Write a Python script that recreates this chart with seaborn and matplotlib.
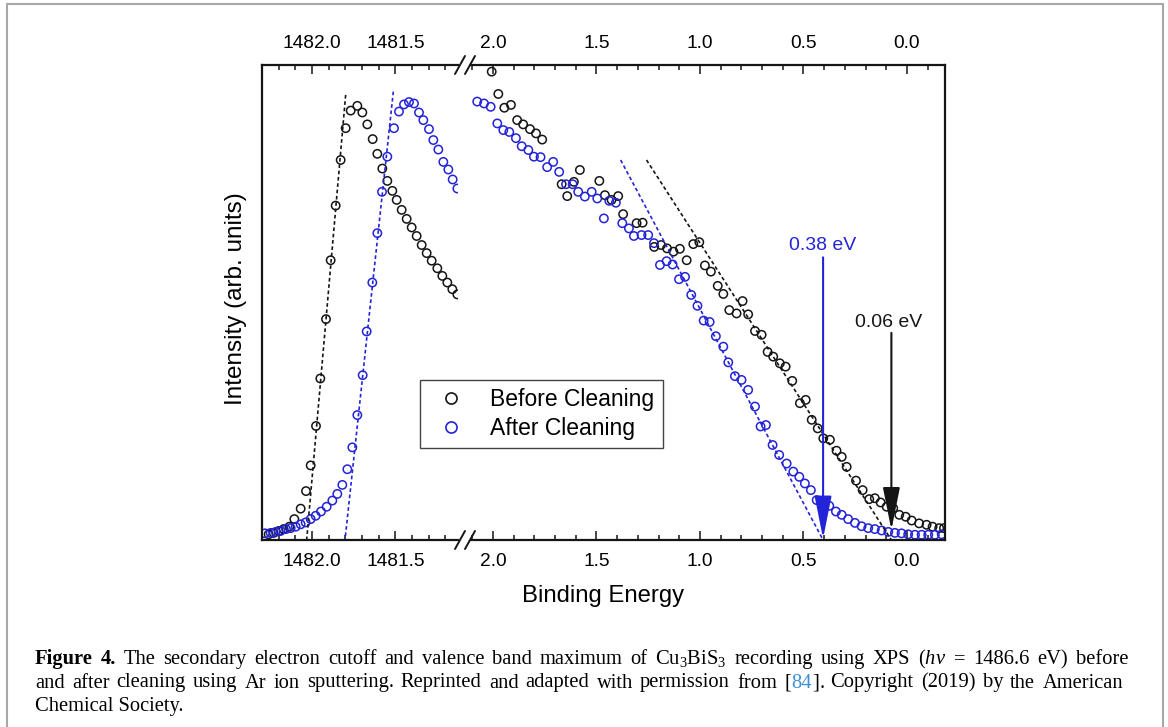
import seaborn as sns
import matplotlib.pyplot as plt
from matplotlib.lines import Line2D
from matplotlib.patches import Rectangle
from matplotlib.ticker import MultipleLocator
import pandas as pd

# secondary electron cutoff region (kinetic energy, eV)
sec_e_before = [1482.26, 1482.23, 1482.20, 1482.17, 1482.136, 1482.106, 1482.068, 1482.036, 1482.008,
                1481.976, 1481.950, 1481.916, 1481.888, 1481.858, 1481.828, 1481.798, 1481.768, 1481.728,
                1481.698, 1481.668, 1481.636, 1481.608, 1481.578, 1481.548, 1481.518, 1481.492, 1481.462,
                1481.432, 1481.402, 1481.372, 1481.342, 1481.312, 1481.282, 1481.248, 1481.218, 1481.188,
                1481.158, 1481.128]
sec_i_before = [1.2, 1.5, 1.9, 2.3, 2.8, 4.4, 6.6, 10.3, 15.7, 24.0, 34.0, 46.5, 58.9, 70.4, 80.0, 86.7,
                90.4, 91.4, 90.0, 87.5, 84.4, 81.3, 78.2, 75.6, 73.5, 71.6, 69.5, 67.6, 65.8, 64.0, 62.1,
                60.4, 58.8, 57.2, 55.6, 54.2, 52.8, 51.7]
sec_e_after = [1482.282, 1482.248, 1482.218, 1482.188, 1482.156, 1482.128, 1482.098, 1482.068, 1482.038,
               1482.008, 1481.978, 1481.946, 1481.912, 1481.878, 1481.848, 1481.818, 1481.788, 1481.758,
               1481.728, 1481.696, 1481.672, 1481.638, 1481.608, 1481.580, 1481.548, 1481.508, 1481.478,
               1481.448, 1481.418, 1481.388, 1481.358, 1481.332, 1481.298, 1481.272, 1481.242, 1481.212,
               1481.182, 1481.156, 1481.128]
sec_i_after = [1.4, 1.5, 1.7, 1.9, 2.3, 2.5, 2.8, 3.3, 3.7, 4.4, 5.1, 6.0, 7.0, 8.3, 9.7, 11.6, 14.9, 19.5,
               26.3, 34.7, 43.9, 54.2, 64.6, 73.3, 80.7, 86.7, 90.2, 91.7, 92.2, 91.9, 90.0, 88.4, 86.5,
               84.2, 82.2, 79.6, 78.0, 75.9, 74.0]

# valence band region (binding energy, eV)
vb_e_before = [2.006, 1.974, 1.945, 1.913, 1.883, 1.854, 1.821, 1.792, 1.762, 1.668, 1.641, 1.609, 1.580,
               1.486, 1.459, 1.427, 1.395, 1.371, 1.306, 1.277, 1.221, 1.188, 1.159, 1.128, 1.097, 1.064,
               1.032, 1.003, 0.976, 0.947, 0.914, 0.887, 0.858, 0.823, 0.794, 0.767, 0.734, 0.702, 0.673,
               0.646, 0.614, 0.586, 0.554, 0.517, 0.489, 0.460, 0.431, 0.404, 0.372, 0.340, 0.315, 0.291,
               0.246, 0.214, 0.182, 0.155, 0.127, 0.098, 0.066, 0.037, 0.006, -0.023, -0.059, -0.095,
               -0.124, -0.156, -0.179]
vb_i_before = [98.6, 93.9, 91.0, 91.6, 88.4, 87.5, 86.5, 85.6, 84.3, 74.9, 72.4, 75.4, 77.9, 75.6, 72.6,
               71.6, 72.4, 68.6, 66.7, 66.8, 61.7, 62.1, 61.4, 60.7, 61.3, 58.9, 62.3, 62.7, 57.8, 56.5,
               53.5, 51.8, 48.4, 47.7, 50.3, 47.5, 44.0, 43.2, 39.6, 38.6, 37.2, 36.5, 33.5, 28.8, 29.5,
               25.3, 23.5, 21.4, 21.1, 18.8, 17.5, 15.4, 12.5, 10.5, 8.6, 8.8, 7.9, 7.0, 6.7, 5.3, 4.9,
               4.1, 3.5, 3.2, 2.8, 2.5, 2.5]
vb_e_after = [2.076, 2.043, 2.011, 1.979, 1.950, 1.921, 1.889, 1.861, 1.829, 1.802, 1.770, 1.738, 1.709,
              1.680, 1.647, 1.615, 1.588, 1.556, 1.523, 1.496, 1.464, 1.438, 1.406, 1.375, 1.343, 1.319,
              1.282, 1.250, 1.222, 1.193, 1.161, 1.132, 1.101, 1.072, 1.042, 1.012, 0.982, 0.953, 0.923,
              0.887, 0.863, 0.831, 0.799, 0.767, 0.734, 0.707, 0.681, 0.649, 0.617, 0.581, 0.549, 0.520,
              0.493, 0.464, 0.436, 0.407, 0.375, 0.343, 0.315, 0.284, 0.251, 0.219, 0.187, 0.155, 0.122,
              0.090, 0.058, 0.026, -0.006, -0.039, -0.071, -0.103, -0.135, -0.168]
vb_i_after = [92.3, 91.9, 91.2, 87.7, 86.3, 85.9, 84.6, 82.9, 82.1, 80.7, 80.6, 78.5, 79.6, 77.5, 74.9,
              74.9, 73.3, 72.3, 73.3, 71.9, 67.7, 71.4, 71.0, 66.7, 65.6, 64.0, 64.2, 64.2, 62.5, 57.9,
              58.7, 58.0, 54.9, 55.4, 51.6, 49.3, 46.2, 45.9, 42.9, 40.7, 37.4, 34.5, 33.7, 31.6, 28.1,
              23.9, 24.2, 20.0, 17.9, 16.1, 14.4, 13.3, 11.9, 10.5, 8.4, 7.6, 7.2, 6.0, 5.3, 4.4, 3.6,
              2.9, 2.5, 2.3, 2.0, 1.7, 1.5, 1.4, 1.2, 1.1, 1.1, 1.1, 1.1, 1.2]

# linear extrapolations
fit_sec_before_e, fit_sec_before_i = [1481.798, 1482.032], [93.7, 0.0]
fit_sec_after_e, fit_sec_after_i = [1481.512, 1481.802], [94.4, 0.0]
fit_vb_before_e, fit_vb_before_i = [1.258, 0.075], [80.0, 0.0]
fit_vb_after_e, fit_vb_after_i = [1.383, 0.405], [80.0, 0.0]

vbm_before, vbm_after = 0.075, 0.405
labels = ['Before Cleaning', 'After Cleaning']

BLACK = '#151515'
BLUE = '#2323d8'

sns.set_style('ticks')
plt.rcParams['font.family'] = ['Liberation Sans', 'DejaVu Sans']
plt.rcParams['text.color'] = 'black'
plt.rcParams['xtick.color'] = 'black'
plt.rcParams['xtick.labelcolor'] = 'black'
plt.rcParams['mathtext.fontset'] = 'custom'
plt.rcParams['mathtext.rm'] = 'Liberation Serif'
plt.rcParams['mathtext.it'] = 'Liberation Serif:italic'
plt.rcParams['mathtext.bf'] = 'Liberation Serif:bold'

W, H = 1168, 727
fig = plt.figure(figsize=(W / 100, H / 100), dpi=100)
fig.patch.set_facecolor('white')


def fx(px):
    return px / W


def fy(py):
    return 1 - py / H


ax_l = fig.add_axes([fx(262), fy(540), fx(458) - fx(262), fy(65) - fy(540)])
ax_r = fig.add_axes([fx(471), fy(540), fx(945) - fx(471), fy(65) - fy(540)])

mk = dict(marker='o', s=36, facecolor='none', linewidth=1.1, legend=False)
sec_b = pd.DataFrame({'E': sec_e_before, 'I': sec_i_before})
sec_a = pd.DataFrame({'E': sec_e_after, 'I': sec_i_after})
vb_b = pd.DataFrame({'E': vb_e_before, 'I': vb_i_before})
vb_a = pd.DataFrame({'E': vb_e_after, 'I': vb_i_after})

sns.scatterplot(data=sec_b, x='E', y='I', edgecolor=BLACK, ax=ax_l, **mk)
sns.scatterplot(data=sec_a, x='E', y='I', edgecolor=BLUE, ax=ax_l, **mk)
sns.scatterplot(data=vb_b, x='E', y='I', edgecolor=BLACK, ax=ax_r, **mk)
sns.scatterplot(data=vb_a, x='E', y='I', edgecolor=BLUE, ax=ax_r, **mk)

dash = dict(lw=1.2, ls=(0, (2.2, 1.6)))
ax_l.plot(fit_sec_before_e, fit_sec_before_i, color=BLACK, **dash)
ax_l.plot(fit_sec_after_e, fit_sec_after_i, color=BLUE, **dash)
ax_r.plot(fit_vb_before_e, fit_vb_before_i, color=BLACK, **dash)
ax_r.plot(fit_vb_after_e, fit_vb_after_i, color=BLUE, **dash)

# arrows marking the valence band maxima
arr = dict(arrowstyle='-|>,head_length=1.2,head_width=0.24', lw=1.5, mutation_scale=22, shrinkA=0, shrinkB=0)
ax_r.annotate('', xy=(vbm_after, 0.3), xytext=(vbm_after, 59.5), arrowprops=dict(color=BLUE, **arr))
ax_r.annotate('', xy=(vbm_before, 2.1), xytext=(vbm_before, 43.6), arrowprops=dict(color=BLACK, **arr))
ax_r.text(vbm_after, 61.0, '0.38 eV', color=BLUE, fontsize=14, ha='center', va='baseline')
ax_r.text(vbm_before + 0.015, 44.9, '0.06 eV', color=BLACK, fontsize=14, ha='center', va='baseline')

for ax in (ax_l, ax_r):
    ax.set_ylim(0, 100)
    ax.set_yticks([])
    ax.set_xlabel('')
    ax.set_ylabel('')
    ax.xaxis.set_minor_locator(MultipleLocator(0.1))
    ax.tick_params(axis='x', which='both', direction='in', top=True, bottom=True,
                   labeltop=True, labelbottom=True, width=1.1, color=BLACK)
    ax.tick_params(axis='x', which='major', length=6.5, labelsize=13.8, pad=9.5)
    ax.tick_params(axis='x', which='minor', length=3.6)
    ax.tick_params(axis='y', left=False, right=False)
    for s in ax.spines.values():
        s.set_linewidth(1.6)
        s.set_color(BLACK)

ax_l.set_xlim(1482.30, 1481.124)
ax_l.set_xticks([1482.0, 1481.5])
ax_l.set_xticklabels(['1482.0', '1481.5'])
ax_l.spines['right'].set_visible(False)

ax_r.set_xlim(2.106, -0.184)
ax_r.set_xticks([2.0, 1.5, 1.0, 0.5, 0.0])
ax_r.set_xticklabels(['2.0', '1.5', '1.0', '0.5', '0.0'])
ax_r.spines['left'].set_visible(False)

# axis break marks
for py in (65, 540):
    for cx in (460, 470):
        fig.add_artist(Line2D([fx(cx - 5), fx(cx + 5)], [fy(py + 9), fy(py - 9)],
                              color=BLACK, lw=1.4))

fig.text(fx(603.5), fy(596), 'Binding Energy', fontsize=17.2, ha='center', va='center')
fig.text(fx(236), fy(299), 'Intensity (arb. units)', fontsize=17.5, ha='center', va='center',
         rotation=90)

handles = [Line2D([], [], marker='o', ls='none', mfc='none', mec=c, ms=8, mew=1.2) for c in (BLACK, BLUE)]
fig.legend(handles, labels, loc='center', bbox_to_anchor=(fx(541.5), fy(414)), fontsize=16.5,
           frameon=True, fancybox=False, framealpha=1, edgecolor='#444444', borderpad=0.35,
           labelspacing=0.25, handletextpad=0.7)
fig.legends[0].get_frame().set_linewidth(1.0)

# caption, justified lines
cap = dict(fontsize=14.8, family='Liberation Serif', va='baseline', ha='left', color='black')
BOLD = {'fontweight': 'bold'}
LINK = {'color': '#3a8fd6'}
line1 = ([[('Figure', BOLD)], [('4.', BOLD)]]
         + [[(w, {})] for w in 'The secondary electron cutoff and valence band maximum of'.split()]
         + [[(r'Cu$_3$BiS$_3$', {})]]
         + [[(w, {})] for w in 'recording using XPS'.split()]
         + [[(r'($h\nu$', {})], [('=', {})], [('1486.6', {})], [('eV)', {})], [('before', {})]])
line2 = ([[(w, {})] for w in 'and after cleaning using Ar ion sputtering. Reprinted and adapted with permission from'.split()]
         + [[('[', {}), ('84', LINK), (']', {}), ('.', {})]]
         + [[(w, {})] for w in 'Copyright (2019) by the American'.split()])

renderer = fig.canvas.get_renderer()


def put_line(words, y, x0, x1):
    placed = []
    total = 0
    for word in words:
        arts = []
        for txt, kw in word:
            t = fig.text(0, fy(y), txt, **{**cap, **kw})
            arts.append((t, t.get_window_extent(renderer).width))
        placed.append(arts)
        total += sum(w for _, w in arts)
    gap = (x1 - x0 - total) / (len(words) - 1)
    x = x0
    for arts in placed:
        for t, w in arts:
            t.set_x(fx(x))
            x += w + 0.6
        x += gap - 0.6 * len(arts)


put_line(line1, 664, 35, 1128)
put_line(line2, 687.5, 35, 1123)
fig.text(fx(35), fy(710.5), 'Chemical Society.', **cap)

fig.add_artist(Rectangle((fx(7), -0.05), fx(1163) - fx(7), fy(4) + 0.05, transform=fig.transFigure,
                         fill=False, edgecolor='#a8a8a8', lw=1.5))

plt.savefig('out.png', dpi=100, facecolor='white')
